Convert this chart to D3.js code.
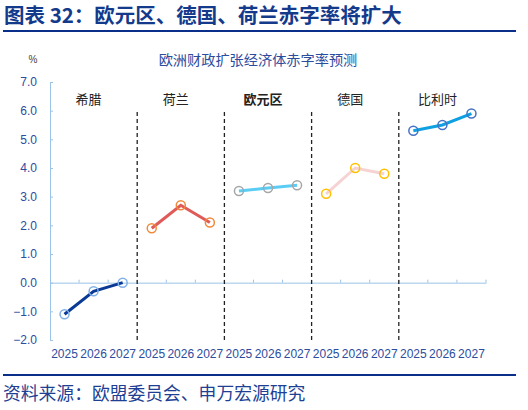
<!DOCTYPE html>
<html>
<head>
<meta charset="utf-8">
<script src="https://cdn.jsdelivr.net/npm/d3@7"></script>
<style>
  body { margin: 0; background: #fff; }
  svg { font-family: "Liberation Sans", "Noto Sans CJK SC", sans-serif; }
</style>
</head>
<body>
<div id="chart"></div>
<script>
// data
const groups = ["希腊", "荷兰", "欧元区", "德国", "比利时"];
const years = ["2025", "2026", "2027"];
const greece = [-1.1, -0.3, 0.0];
const netherlands = [1.9, 2.7, 2.1];
const eurozone = [3.2, 3.3, 3.4];
const germany = [3.1, 4.0, 3.8];
const belgium = [5.3, 5.5, 5.9];
const yTicks = [-2, -1, 0, 1, 2, 3, 4, 5, 6, 7];

// styling per group
const lineColors = ["#0b3a96", "#e05a58", "#5bcdf5", "#f6d2d2", "#0fa0e2"];
const dotColors = ["#7fb0e8", "#f08a3a", "#a6a6a6", "#ffc000", "#4472c4"];

const width = 528, height = 410;
const margin = {left: 50, right: 42, top: 82, bottom: 70};

const svg = d3.select("#chart").append("svg")
  .attr("width", width)
  .attr("height", height);

// header
svg.append("text")
  .attr("x", 4).attr("y", 23)
  .attr("font-family", "Noto Sans CJK SC")
  .attr("font-size", 20.5).attr("font-weight", "bold")
  .attr("fill", "#143a8c")
  .text("图表 32：欧元区、德国、荷兰赤字率将扩大");

svg.append("line")
  .attr("x1", 3).attr("x2", 516).attr("y1", 31).attr("y2", 31)
  .attr("stroke", "#0a2f8a").attr("stroke-width", 2);

svg.append("line")
  .attr("x1", 3).attr("x2", 516).attr("y1", 375).attr("y2", 375)
  .attr("stroke", "#0a2f8a").attr("stroke-width", 2);

svg.append("text")
  .attr("x", 3).attr("y", 400)
  .attr("font-family", "Noto Sans CJK SC")
  .attr("font-size", 17.8)
  .attr("fill", "#1e3f94")
  .text("资料来源：欧盟委员会、申万宏源研究");

svg.append("text")
  .attr("x", 258).attr("y", 65)
  .attr("text-anchor", "middle")
  .attr("font-family", "Noto Sans CJK SC")
  .attr("font-size", 14.2)
  .attr("fill", "#2c4c9e")
  .text("欧洲财政扩张经济体赤字率预测");

svg.append("text")
  .attr("x", 33).attr("y", 63)
  .attr("text-anchor", "middle")
  .attr("font-size", 10)
  .attr("fill", "#444")
  .text("%");

// categories: one per group-year
const cats = [];
groups.forEach((g, gi) => years.forEach(y => cats.push(g + "-" + y)));

const x = d3.scaleBand()
  .domain(cats)
  .range([margin.left, width - margin.right]);

const y = d3.scaleLinear()
  .domain([-2, 7])
  .range([height - margin.bottom, margin.top]);

// y axis
const yAxis = svg.append("g")
  .attr("transform", `translate(${margin.left},0)`)
  .call(d3.axisLeft(y).tickValues(yTicks).tickFormat(d3.format(".1f")).tickSize(-3).tickSizeOuter(-3));
yAxis.selectAll("path, line").attr("stroke", "#9cc3e8");
yAxis.selectAll("text")
  .attr("x", -13)
  .attr("font-size", 12)
  .attr("font-family", "Liberation Sans")
  .attr("fill", "#2c4c9e");

// x axis along zero
const xAxis = svg.append("g")
  .attr("transform", `translate(0,${y(0)})`)
  .call(d3.axisBottom(x).tickSize(0).tickSizeOuter(0).tickFormat(""));
xAxis.select("path").attr("stroke", "#9cc3e8");
svg.append("g").selectAll("line")
  .data(cats)
  .join("line")
  .attr("x1", d => x(d) + x.bandwidth())
  .attr("x2", d => x(d) + x.bandwidth())
  .attr("y1", y(0)).attr("y2", y(0) - 3)
  .attr("stroke", "#9cc3e8");

// year labels at bottom
svg.append("g").selectAll("text")
  .data(cats)
  .join("text")
  .attr("x", d => x(d) + x.bandwidth() / 2)
  .attr("y", height - margin.bottom + 18)
  .attr("text-anchor", "middle")
  .attr("font-size", 12)
  .attr("fill", "#2c4c9e")
  .text(d => d.split("-")[1]);

// dashed separators
svg.append("g").selectAll("line")
  .data(groups.slice(1))
  .join("line")
  .attr("x1", g => x(g + "-2025"))
  .attr("x2", g => x(g + "-2025"))
  .attr("y1", 112).attr("y2", y(-2))
  .attr("stroke", "#222").attr("stroke-width", 1.3)
  .attr("stroke-dasharray", "4,3");

// group names
svg.append("g").selectAll("text")
  .data(groups)
  .join("text")
  .attr("x", g => x(g + "-2026") + x.bandwidth() / 2 - 5)
  .attr("y", 104)
  .attr("text-anchor", "middle")
  .attr("font-family", "Noto Sans CJK SC")
  .attr("font-size", 13)
  .attr("font-weight", g => g === "欧元区" ? "bold" : "normal")
  .attr("fill", "#222")
  .text(g => g);

// lines and markers
const series = [greece, netherlands, eurozone, germany, belgium];
const line = d3.line()
  .x(d => x(d.cat) + x.bandwidth() / 2)
  .y(d => y(d.v));

series.forEach((vals, gi) => {
  const pts = vals.map((v, i) => ({cat: groups[gi] + "-" + years[i], v: v}));
  svg.append("path")
    .datum(pts)
    .attr("d", line)
    .attr("fill", "none")
    .attr("stroke", lineColors[gi])
    .attr("stroke-width", 3);
  svg.append("g").selectAll("circle")
    .data(pts)
    .join("circle")
    .attr("cx", d => x(d.cat) + x.bandwidth() / 2)
    .attr("cy", d => y(d.v))
    .attr("r", 4.5)
    .attr("fill", "none")
    .attr("stroke", dotColors[gi])
    .attr("stroke-width", 1.5);
});
</script>
</body>
</html>
